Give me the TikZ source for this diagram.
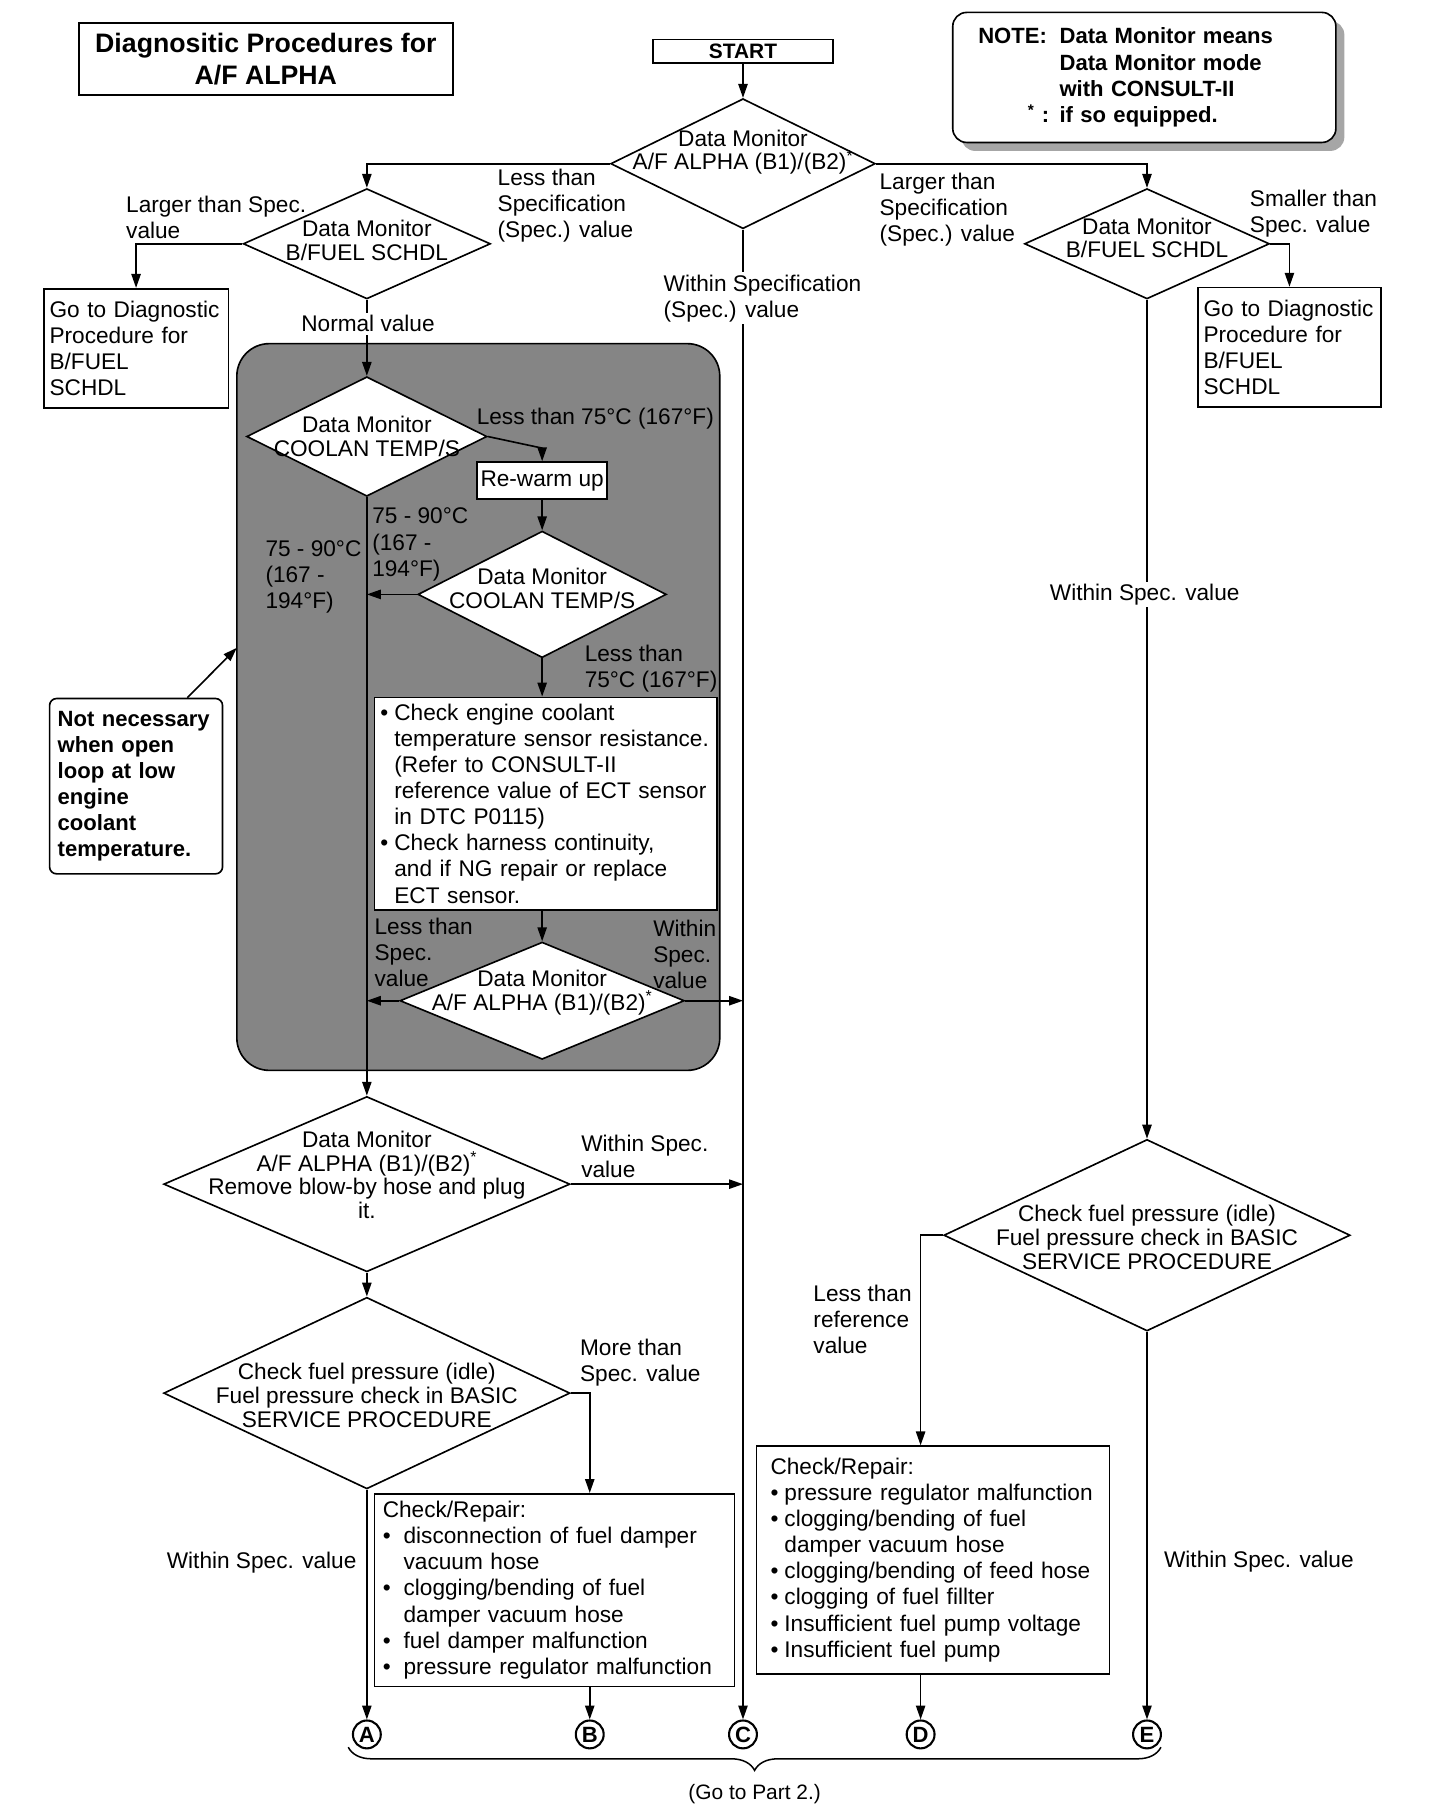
\documentclass[tikz,border=0pt]{standalone}
\usepackage{amsmath}
\usepackage{fontspec}
\setmainfont{Liberation Sans}
\usetikzlibrary{shapes.geometric,arrows.meta,decorations.pathreplacing}

\newcommand{\dotmark}[1][12pt]{\makebox[#1][l]{\textbullet}}
\newcommand{\dotgap}[1][12pt]{\hspace*{#1}}

\begin{document}
\begin{tikzpicture}[x=1pt, y=-1pt, line width=1.4pt,
    every node/.style={font=\fontsize{19.5}{22.5}\selectfont},
    dia/.style={diamond, draw, fill=white, inner sep=0pt},
    diatext/.style={align=center, inner sep=0pt, font=\fontsize{19.5}{20.5}\selectfont},
    box/.style={draw, fill=white, anchor=north west, align=left, inner xsep=5pt, inner ysep=0pt},
    lbl/.style={anchor=north west, align=left, inner sep=0pt},
    onwire/.style={fill=white, inner sep=2pt},
    flow/.style={-{Triangle[length=12pt,width=8pt]}},
    letter/.style={circle, draw, line width=1.8pt, inner sep=0pt, minimum size=24pt,
                   font=\fontsize{19}{20}\selectfont\bfseries}]

\useasboundingbox (0,0) rectangle (1254,1566);

%% grey block
\node[draw, fill=black!48, rounded corners=28pt, inner sep=0pt,
      minimum width=416, minimum height=626] (warm) at (412,609) {};

%% heading boxes
\node[draw, align=center, minimum width=322, minimum height=62,
      font=\fontsize{23}{27}\selectfont\bfseries] (title) at (229,51)
      {Diagnositic Procedures for\\A/F ALPHA};
\node[draw, minimum width=155, minimum height=20, inner sep=0pt,
      font=\fontsize{18}{20}\selectfont\bfseries] (start) at (640,44) {START};
\fill[black!35, rounded corners=12pt] (828,18) rectangle (1158,130);   %% shadow
\node[draw, fill=white, rounded corners=12pt, anchor=north west, align=left,
      text width=286, inner xsep=22pt, minimum height=112,
      font=\fontsize{19}{22.5}\selectfont\bfseries] (note) at (820,10)
      {\makebox[70pt][l]{NOTE:}Data Monitor means\\
       \hspace*{70pt}Data Monitor mode\\
       \hspace*{70pt}with CONSULT-II\\
       \makebox[70pt][r]{\textsuperscript{*}\ :\hspace{9pt}}if so equipped.};

%% decisions
\node[dia, minimum width=228, minimum height=112] (d1) at (640,141) {};
\node[dia, minimum width=213, minimum height=95]  (d2) at (316,210) {};
\node[dia, minimum width=207, minimum height=103] (d3) at (316,376) {};
\node[dia, minimum width=214, minimum height=109] (d4) at (467,512) {};
\node[dia, minimum width=245, minimum height=101] (d5) at (467,862) {};
\node[dia, minimum width=350, minimum height=151] (d6) at (316,1020) {};
\node[dia, minimum width=211, minimum height=95]  (d7) at (988,210) {};
\node[dia, minimum width=350, minimum height=165] (d8) at (988,1064) {};
\node[dia, minimum width=350, minimum height=165] (d9) at (316,1200) {};

%% decision texts
\node[diatext] (d1t) at (640,131) {Data Monitor\\A/F ALPHA (B1)/(B2)\textsuperscript{*}};
\node[diatext] (d2t) at (316,207) {Data Monitor\\B/FUEL SCHDL};
\node[diatext] (d3t) at (316,376) {Data Monitor\\COOLAN TEMP/S};
\node[diatext] (d4t) at (467,507) {Data Monitor\\COOLAN TEMP/S};
\node[diatext] (d5t) at (467,855) {Data Monitor\\A/F ALPHA (B1)/(B2)\textsuperscript{*}};
\node[diatext] (d6t) at (316,1012) {Data Monitor\\A/F ALPHA (B1)/(B2)\textsuperscript{*}\\Remove blow-by hose and plug\\it.};
\node[diatext] (d7t) at (988,205) {Data Monitor\\B/FUEL SCHDL};
\node[diatext] (d8t) at (988,1066) {Check fuel pressure (idle)\\Fuel pressure check in BASIC\\SERVICE PROCEDURE};
\node[diatext] (d9t) at (316,1202) {Check fuel pressure (idle)\\Fuel pressure check in BASIC\\SERVICE PROCEDURE};

%% boxes
\node[box, text width=149, minimum height=103] (g1) at (37,248)
      {Go to Diagnostic\\Procedure for\\B/FUEL\\SCHDL};
\node[box, text width=148, minimum height=103] (g2) at (1031,247)
      {Go to Diagnostic\\Procedure for\\B/FUEL\\SCHDL};
\node[draw, fill=white, minimum width=112, minimum height=32, inner sep=0pt] (rw) at (467,414) {Re-warm up};
\node[box, text width=285, minimum height=183] (chk) at (322,600)
      {\dotmark Check engine coolant\\
       \dotgap temperature sensor resistance.\\
       \dotgap (Refer to CONSULT-II\\
       \dotgap reference value of ECT sensor\\
       \dotgap in DTC P0115)\\
       \dotmark Check harness continuity,\\
       \dotgap and if NG repair or replace\\
       \dotgap ECT sensor.};
\node[box, inner xsep=7pt, text width=296, minimum height=166] (r1) at (322,1286)
      {Check/Repair:\\
       \dotmark[18pt]disconnection of fuel damper\\
       \dotgap[18pt]vacuum hose\\
       \dotmark[18pt]clogging/bending of fuel\\
       \dotgap[18pt]damper vacuum hose\\
       \dotmark[18pt]fuel damper malfunction\\
       \dotmark[18pt]pressure regulator malfunction};
\node[box, inner xsep=12pt, text width=280, minimum height=196] (r2) at (651,1245)
      {Check/Repair:\\
       \dotmark pressure regulator malfunction\\
       \dotmark clogging/bending of fuel\\
       \dotgap damper vacuum hose\\
       \dotmark clogging/bending of feed hose\\
       \dotmark clogging of fuel fillter\\
       \dotmark Insufficient fuel pump voltage\\
       \dotmark Insufficient fuel pump};
\node[draw, fill=white, rounded corners=6pt, anchor=north west, align=left,
      text width=135, inner xsep=7pt, minimum height=151,
      font=\fontsize{19}{22.5}\selectfont\bfseries] (nn) at (42,601)
      {Not necessary\\when open\\loop at low\\engine\\coolant\\temperature.};
\coordinate (nntip) at (204,558);

%% exits to part 2
\node[letter] (cA) at (316,1494) {A};
\node[letter] (cB) at (508,1494) {B};
\node[letter] (cC) at (640,1494) {C};
\node[letter] (cD) at (793,1494) {D};
\node[letter] (cE) at (988,1494) {E};

%% connectors
\draw[flow] (start.south) -- (d1.north);
\draw[flow] (d1.west) -| (d2.north);
\draw[flow] (d1.east) -| (d7.north);
\draw[flow] (d1.south) -- (cC.north);
\draw[flow] (d2.west) -| (g1.north);
\draw[flow] (d2.south) -- (d3.north);
\draw[flow] (d7.east) -| (g2.north);
\draw[flow] (d7.south) -- (d8.north);
\coordinate (rwk) at (467,386);
\draw[flow] (d3.east) -- (rwk) -- (rw.north);
\draw[flow] (rw.south) -- (d4.north);
\draw[flow] (d4.west) -- (d4.west -| d3.south);
\draw[flow] (d4.south) -- (d4.south |- chk.north);
\draw[flow] (d5.north |- chk.south) -- (d5.north);
\draw[flow] (d5.west) -- (d5.west -| d3.south);
\draw[flow] (d5.east) -- (d5.east -| cC.north);
\draw[flow] (d3.south) -- (d6.north);
\draw[flow] (d6.east) -- (d6.east -| cC.north);
\draw[flow] (d6.south) -- (d9.north);
\draw[flow] (d9.east) -| (cB |- r1.north);
\draw[flow] (d9.south) -- (cA.north);
\draw[flow] (cB |- r1.south) -- (cB.north);
\draw[flow] (d8.west) -| (cD |- r2.north);
\draw[flow] (cD |- r2.south) -- (cD.north);
\draw[flow] (d8.south) -- (cE.north);
\draw[flow] ([xshift=-31pt]nn.north east) -- (nntip);

%% brace
\draw[line width=1.3pt, decorate, decoration={brace, mirror, amplitude=20pt}]
      (300,1505) -- (1000,1505);
\node[font=\fontsize{18}{20}\selectfont] (part2) at (650,1545) {(Go to Part 2.)};

%% labels
\node[lbl] (l1) at (428,145) {Less than\\Specification\\(Spec.) value};
\node[lbl] (l2) at (108,168) {Larger than Spec.\\value};
\node[onwire] (l3) at (317,279) {Normal value};
\node[lbl, fill=white, inner sep=2pt] (l4) at (569,234) {Within Specification\\(Spec.) value};
\node[lbl] (l5) at (757,148) {Larger than\\Specification\\(Spec.) value};
\node[lbl] (l6) at (1076,163) {Smaller than\\Spec. value};
\node[onwire] (l7) at (986,512) {Within Spec. value};
\node[lbl] (l8) at (500,977) {Within Spec.\\value};
\node[lbl] (l9) at (499,1153) {More than\\Spec. value};
\node[lbl] (l10) at (700,1106) {Less than\\reference\\value};
\node[lbl, anchor=west] (l11) at (143,1346) {Within Spec. value};
\node[lbl, anchor=west] (l12) at (1002,1345) {Within Spec. value};

%% labels on the grey block
\node[lbl, anchor=west] (w1) at (410,361) {Less than 75°C (167°F)};
\node[lbl] (w2) at (320,437) {75 - 90°C\\(167 -\\194°F)};
\node[lbl] (w3) at (228,465) {75 - 90°C\\(167 -\\194°F)};
\node[lbl] (w4) at (503,555) {Less than\\75°C (167°F)};
\node[lbl] (w5) at (322,790) {Less than\\Spec.\\value};
\node[lbl] (w6) at (562,792) {Within\\Spec.\\value};
\end{tikzpicture}
\end{document}
